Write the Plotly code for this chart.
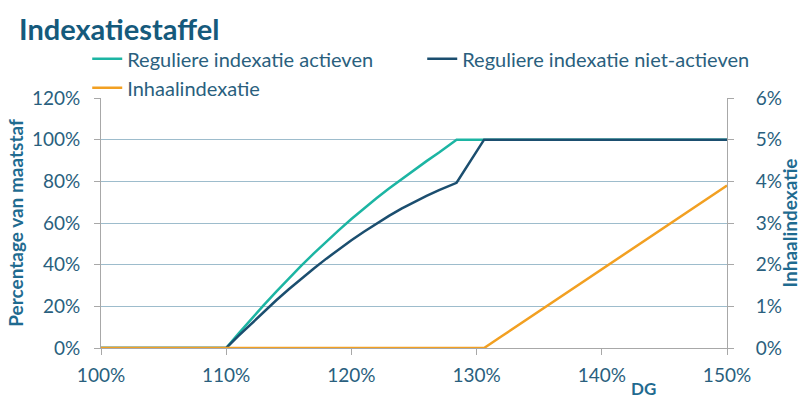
import plotly.graph_objects as go

# DG (%) values and series values (%)
x_actief = [100, 110, 111, 112, 113, 114, 115, 116, 117, 118, 119, 120, 121, 122, 123, 124, 125, 126, 127, 128, 128.4, 130, 135, 140, 145, 150]
y_actief = [0, 0, 7, 13.9, 20.6, 27.1, 33.4, 39.5, 45.4, 51.1, 56.6, 61.9, 67, 71.9, 76.6, 81.1, 85.5, 89.7, 93.8, 98, 100, 100, 100, 100, 100, 100]

x_niet = [100, 110, 111, 112, 113, 114, 115, 116, 117, 118, 119, 120, 121, 122, 123, 124, 125, 126, 127, 128, 128.4, 130.6, 135, 140, 145, 150]
y_niet = [0, 0, 5.9, 11.7, 17.4, 22.9, 28.2, 33.3, 38.2, 42.9, 47.4, 51.7, 55.8, 59.7, 63.4, 66.9, 70.1, 73.0, 75.8, 78.4, 79.3, 100, 100, 100, 100, 100]

x_inhaal = [100, 110, 120, 130, 130.6, 132, 134, 136, 138, 140, 142, 144, 146, 148, 150]
y_inhaal = [0, 0, 0, 0, 0, 0.28, 0.68, 1.08, 1.48, 1.88, 2.28, 2.69, 3.09, 3.5, 3.9]

names = ["Reguliere indexatie actieven", "Reguliere indexatie niet-actieven", "Inhaalindexatie"]
colors = ["#1cb5a3", "#1b4e6f", "#f2a022"]

x_ticks = [100, 110, 120, 130, 140, 150]
x_ticktext = ["100%", "110%", "120%", "130%", "140%", "150%"]

FONT = "Lato"
TXT = "#2a5f7e"

fig = go.Figure()
fig.add_trace(go.Scatter(x=x_actief, y=y_actief, mode="lines", name=names[0],
                         line=dict(color=colors[0], width=2.5)))
fig.add_trace(go.Scatter(x=x_niet, y=y_niet, mode="lines", name=names[1],
                         line=dict(color=colors[1], width=2.5)))
fig.add_trace(go.Scatter(x=x_inhaal, y=y_inhaal, mode="lines", name=names[2],
                         line=dict(color=colors[2], width=2.5), yaxis="y2"))

fig.update_layout(
    width=801, height=401,
    margin=dict(l=101, r=74, t=98, b=53, autoexpand=False),
    plot_bgcolor="white", paper_bgcolor="white",
    font=dict(family=FONT, size=19, color=TXT),
    title=dict(text="<b>Indexatiestaffel</b>", x=19/801, xanchor="left", y=1-30/401, yanchor="middle",
               font=dict(family=FONT, size=29, color="#155a7c")),
    legend=dict(orientation="h", x=-0.022, xanchor="left", y=1.235, yanchor="top",
                entrywidth=290, entrywidthmode="pixels", font=dict(size=20, color=TXT),
                bgcolor="rgba(0,0,0,0)", tracegroupgap=0),
    xaxis=dict(range=[100, 150], tickvals=x_ticks, ticktext=x_ticktext, showgrid=False,
               showline=True, linecolor="#a8a8a8", linewidth=1, ticks="outside", ticklen=6,
               tickcolor="#a8a8a8", zeroline=False, ticklabelstandoff=4, automargin=False,
               tickfont=dict(size=19, color=TXT)),
    yaxis=dict(range=[0, 120], dtick=20, ticksuffix="%", showgrid=True, gridcolor="#9dbccc",
               gridwidth=1, showline=True, linecolor="#a8a8a8", ticks="outside", ticklen=6,
               tickcolor="#a8a8a8", zeroline=False, ticklabelstandoff=10, automargin=False,
               tickfont=dict(size=19, color=TXT),
               title=dict(text="<b>Percentage van maatstaf</b>", standoff=3,
                          font=dict(size=19, color="#1f6b90"))),
    yaxis2=dict(range=[0, 6], dtick=1, ticksuffix="%", overlaying="y", side="right",
                showgrid=False, showline=True, linecolor="#a8a8a8", ticks="outside", ticklen=6,
                tickcolor="#a8a8a8", zeroline=False, ticklabelstandoff=18, automargin=False,
                tickfont=dict(size=19, color=TXT),
                title=dict(text="<b>Inhaalindexatie</b>", standoff=3,
                           font=dict(size=19, color="#1f6b90"))),
    annotations=[dict(text="<b>DG</b>", x=143.3, xref="x", y=-0.212, yref="paper",
                      yanchor="bottom", showarrow=False, font=dict(size=17, color="#1f6b90"))],
)

fig.write_html("out.html")
